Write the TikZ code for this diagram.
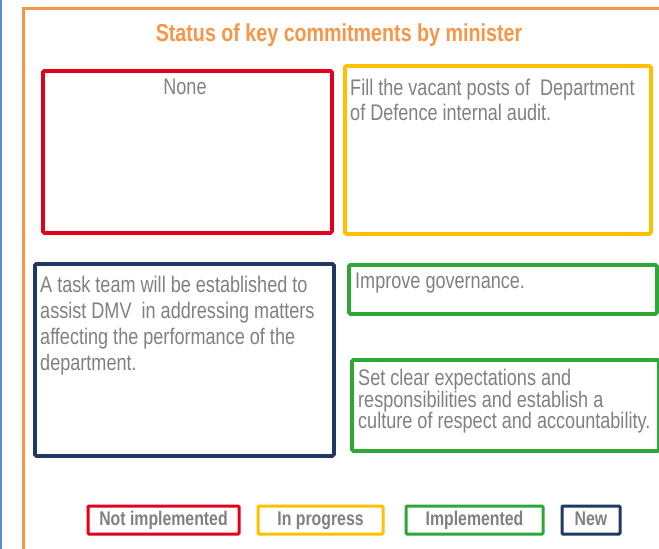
\documentclass[tikz,border=0pt]{standalone}
\usepackage{fontspec}
\setmainfont{Liberation Sans}[FakeStretch=0.8]
\usepackage{xcolor}
\usepackage{tikz}
\usetikzlibrary{positioning}

\definecolor{frameorange}{HTML}{F79646}
\definecolor{edgeblue}{HTML}{5B8CCB}
\definecolor{statred}{HTML}{E2001A}
\definecolor{statyellow}{HTML}{FFC000}
\definecolor{statgreen}{HTML}{2CA738}
\definecolor{statnavy}{HTML}{1F3864}
\definecolor{txtgray}{HTML}{808080}

\tikzset{
  statbox/.style={draw, line width=3.8pt, rounded corners=1.5pt, inner sep=0pt, anchor=north west},
  boxtext/.style={text=txtgray, inner sep=0pt, align=left, anchor=north west, font=\fontsize{22.6}{26}\selectfont},
  legbox/.style={draw, line width=3pt, rounded corners=1pt, text=txtgray, inner sep=0pt,
    minimum height=28pt, text height=14pt, text depth=4pt, font=\bfseries\fontsize{19.8}{19.8}\selectfont}
}

\begin{document}
\begin{tikzpicture}[x=1pt,y=-1pt]
            \useasboundingbox (0,0) rectangle (659,549);
            % page edge and outer frame
            \draw[edgeblue,line width=2.5pt] (1,0) -- (1,549);
            \draw[frameorange,line width=3pt] (23,700) |- (720,8);
            \node[font=\bfseries\fontsize{24.6}{24.6}\selectfont, text=frameorange, inner sep=0pt, anchor=base] (title) at (339,41) {Status of key commitments by minister};
            % status boxes
            \node[statbox,draw=statred,minimum width=289pt,minimum height=162pt] (notdone) at (41,69) {};
            \node[boxtext,anchor=base] (nonetxt) at (185,94) {None};
            \node[statbox,draw=statyellow,minimum width=306pt,minimum height=168pt] (ongoing) at (343,64) {};
            \node[boxtext,font=\fontsize{22.6}{24.5}\selectfont] (posttxt) at (350,79) {Fill the vacant posts of\ \ Department\\of Defence internal audit.};
            \node[statbox,draw=statnavy,minimum width=299pt,minimum height=192pt] (newitem) at (33,262) {};
            \node[boxtext] (teamtxt) at (40,276) {A task team will be established to\\assist DMV\ \ in addressing matters\\affecting the performance of the\\department.};
            \node[statbox,draw=statgreen,minimum width=308pt,minimum height=49pt] (donea) at (347,263) {};
            \node[boxtext,anchor=base west] (govtxt) at (355,288) {Improve governance.};
            \node[statbox,draw=statgreen,minimum width=307pt,minimum height=91pt] (doneb) at (350,358) {};
            \node[boxtext,font=\fontsize{22.6}{21.7}\selectfont] (culttxt) at (358,369) {Set clear expectations and\\responsibilities and establish a\\culture of respect and accountability.};
            % legend
            \foreach \c/\l/\r/\t [count=\i] in {statred/88/239/Not implemented,statyellow/258/383/In progress,statgreen/406/543/Implemented,statnavy/562/620/New}{
              \node[legbox,draw=\c,minimum width={(\r-\l)*1pt}] (leg\i) at ({(\l+\r)/2},520) {\t};
            }
        \end{tikzpicture}
\end{document}
